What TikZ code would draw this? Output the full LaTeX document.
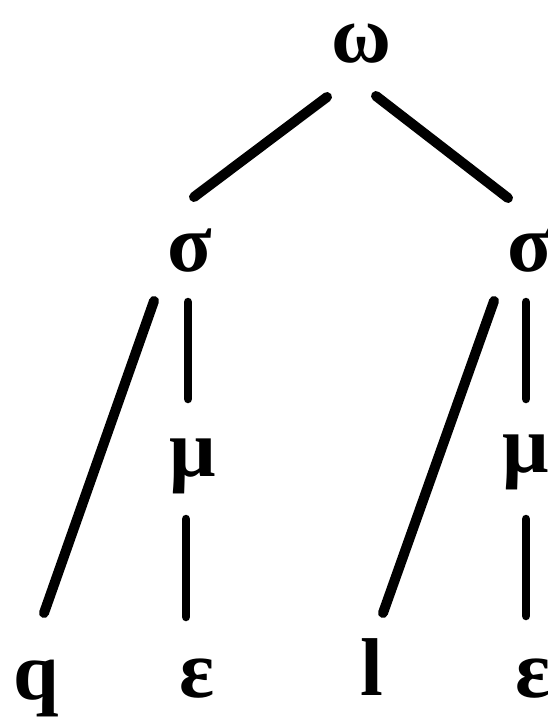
\documentclass[tikz,border=0pt]{standalone}
\usepackage{fontspec}
\setmainfont{Liberation Serif}
\begin{document}
\begin{tikzpicture}[x=1pt,y=-1pt,
  lab/.style={font=\fontsize{82}{82}\selectfont\bfseries, inner sep=0pt, anchor=base},
  thick edge/.style={line width=10pt, line cap=round},
  thin edge/.style={line width=8.5pt, line cap=round}]
\useasboundingbox (0,0) rectangle (548,718);
\node[lab] (om) at (361,62) {ω};
\node[lab] (sl) at (190,271) {σ};
\node[lab] (sr) at (530,271) {σ};
\node[lab] (ml) at (193,476) {μ};
\node[lab] (mr) at (526,472) {μ};
\node[lab] (q) at (36,699) {q};
\node[lab] (el) at (197,697) {ε};
\node[lab] (l) at (372,695) {l};
\node[lab] (er) at (533,697) {ε};
% connector end points
\coordinate (a1) at (327,97); \coordinate (a2) at (194,197);
\coordinate (b1) at (376,96); \coordinate (b2) at (508,198);
\coordinate (c1) at (154,301); \coordinate (c2) at (44,613);
\coordinate (d1) at (188,302); \coordinate (d2) at (188,399);
\coordinate (e1) at (186,519); \coordinate (e2) at (186,617);
\coordinate (f1) at (494,301); \coordinate (f2) at (383,613);
\coordinate (g1) at (526,302); \coordinate (g2) at (526,399);
\coordinate (h1) at (526,519); \coordinate (h2) at (526,616);
\draw[thick edge] (a1) -- (a2);
\draw[thick edge] (b1) -- (b2);
\draw[thick edge] (c1) -- (c2);
\draw[thin edge] (d1) -- (d2);
\draw[thin edge] (e1) -- (e2);
\draw[thick edge] (f1) -- (f2);
\draw[thin edge] (g1) -- (g2);
\draw[thin edge] (h1) -- (h2);
\end{tikzpicture}
\end{document}
